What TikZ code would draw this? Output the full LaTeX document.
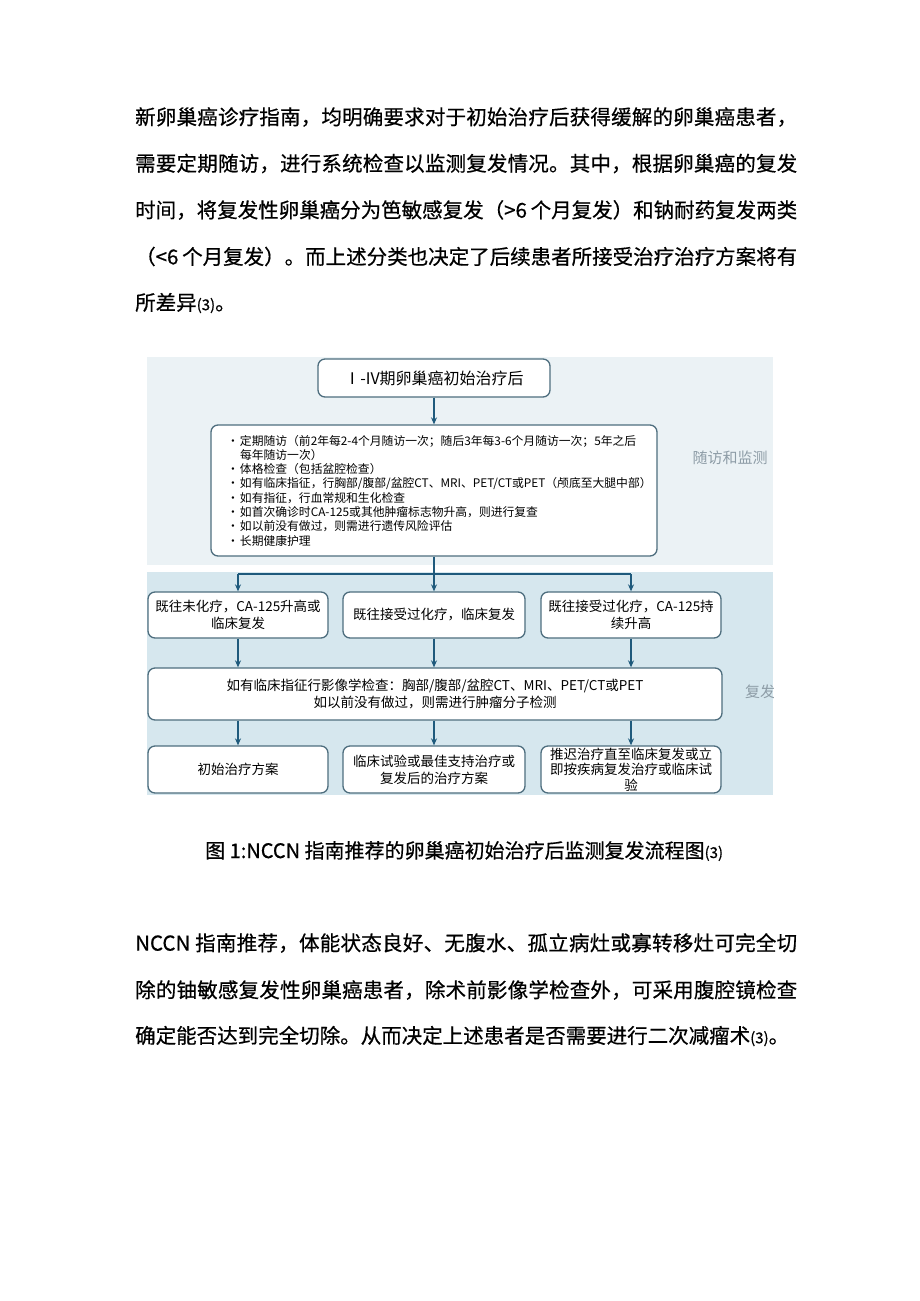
\documentclass[tikz,border=0pt]{standalone}
\usepackage{fontspec}
\setmainfont{Noto Sans CJK SC}
\newfontfamily\bodyfam{Noto Sans CJK SC}[FakeBold=0.6]
\usetikzlibrary{arrows.meta,positioning}
\definecolor{bgup}{HTML}{EBF2F5}
\definecolor{bgdown}{HTML}{D6E7EE}
\definecolor{boxline}{HTML}{4E6E7E}
\definecolor{arrowc}{HTML}{1F5A7C}
\definecolor{sidegray}{HTML}{8D9CA6}
\newcommand\bodyfont{\bodyfam\fontsize{20.5}{24}\selectfont}
\newcommand\topfont{\fontsize{16}{19}\selectfont}
\newcommand\boxfont{\fontsize{13.5}{17}\selectfont}
\newcommand\listfont{\fontsize{11.8}{14.3}\selectfont}
\newcommand\sidefont{\fontsize{15}{18}\selectfont}
\newcommand\refthree{{\fontsize{15}{15}\selectfont(3)}}
\newcommand\itm{\makebox[13pt][l]{•}}
% spread one printed line over the full text width
\def\spreadline#1{\makebox[662pt][s]{\spreadfirst#1\relax}}
\def\spreadfirst#1{#1\spreadrest}
\def\spreadrest#1{\ifx#1\relax\else\hfil#1\expandafter\spreadrest\fi}
\tikzset{
  bodyln/.style={anchor=west, inner sep=0pt, font=\bodyfont},
  stage/.style={rectangle, draw=boxline, line width=1.3pt, rounded corners=7pt,
                fill=white, align=center, font=\boxfont, inner sep=3pt},
  listbox/.style={stage, align=left, font=\listfont, inner xsep=16pt, text width=414pt},
  sidelbl/.style={font=\sidefont, text=sidegray, inner sep=0pt},
  fl/.style={-{Stealth[length=7pt,width=6pt]}, draw=arrowc, line width=1.2pt},
  ln/.style={draw=arrowc, line width=1.2pt},
}

\begin{document}
\begin{tikzpicture}[x=1pt,y=-1pt]
\useasboundingbox (0,0) rectangle (920,1301);
\node[bodyln] (p1a) at (135,117) {\spreadline{新卵巢癌诊疗指南，均明确要求对于初始治疗后获得缓解的卵巢癌患者，}};
\node[bodyln] (p1b) at (135,163.5) {\spreadline{需要定期随访，进行系统检查以监测复发情况。其中，根据卵巢癌的复发}};
\node[bodyln] (p1c) at (135,210) {\spreadline{时间，将复发性卵巢癌分为笆敏感复发（{>6 }个月复发）和钠耐药复发两类}};
\node[bodyln] (p1d) at (135,256.5) {\spreadline{（{<6 }个月复发）。而上述分类也决定了后续患者所接受治疗治疗方案将有}};
\node[bodyln] (p1e) at (135,303) {所差异\refthree。};

\fill[bgup] (147,357) rectangle (773,565);
\fill[bgdown] (147,572) rectangle (773,795);

\node[stage, font=\topfont, minimum width=232pt, minimum height=38pt] (start) at (434,378) {Ⅰ-IV期卵巢癌初始治疗后};
\node[listbox, minimum width=446pt, minimum height=131pt] (follow) at (434,490.5)
  {\itm 定期随访（前2年每2-4个月随访一次；随后3年每3-6个月随访一次；5年之后\\
   \hspace*{13pt}每年随访一次）\\
   \itm 体格检查（包括盆腔检查）\\
   \itm 如有临床指征，行胸部/腹部/盆腔CT、MRI、PET/CT或PET（颅底至大腿中部）\\
   \itm 如有指征，行血常规和生化检查\\
   \itm 如首次确诊时CA-125或其他肿瘤标志物升高，则进行复查\\
   \itm 如以前没有做过，则需进行遗传风险评估\\
   \itm 长期健康护理};

\node[stage, minimum width=180pt, minimum height=46pt] (prior1) at (238,615) {既往未化疗，CA-125升高或\\临床复发};
\node[stage, minimum width=182pt, minimum height=46pt] (prior2) at (434,615) {既往接受过化疗，临床复发};
\node[stage, minimum width=180pt, minimum height=46pt] (prior3) at (631,615) {既往接受过化疗，CA-125持\\续升高};
\node[stage, minimum width=574pt, minimum height=52pt] (imaging) at (435,694)
  {如有临床指征行影像学检查：胸部/腹部/盆腔CT、MRI、PET/CT或PET\\如以前没有做过，则需进行肿瘤分子检测};
\node[stage, minimum width=180pt, minimum height=47pt] (plan1) at (238,769.5) {初始治疗方案};
\node[stage, minimum width=182pt, minimum height=47pt] (plan2) at (434,769.5) {临床试验或最佳支持治疗或\\复发后的治疗方案};
\node[stage, minimum width=180pt, minimum height=47pt, inner ysep=0pt,
      font=\fontsize{13.5}{15.5}\selectfont] (plan3) at (631,769.5) {推迟治疗直至临床复发或立\\即按疾病复发治疗或临床试\\验};

\begin{scope}
\clip (147,357) rectangle (773,795);
\node[sidelbl] (lblfollow) at (730,458) {随访和监测};
\node[sidelbl, anchor=west] (lblrec) at (745,692) {复发};
\end{scope}

\coordinate (split) at (434,574);
\draw[fl] (start) -- (follow);
\draw[ln] (follow) -- (split);
\draw[ln] (prior1.north |- split) -- (prior3.north |- split);
\foreach \n in {prior1,prior2,prior3} \draw[fl] (\n.north |- split) -- (\n.north);
\foreach \n in {prior1,prior2,prior3} \draw[fl] (\n) -- (\n.south |- imaging.north);
\foreach \n in {plan1,plan2,plan3} \draw[fl] (\n.north |- imaging.south) -- (\n);

\node[bodyln, font=\bodyfam\fontsize{20}{24}\selectfont] (caption) at (205,851) {图 1:NCCN 指南推荐的卵巢癌初始治疗后监测复发流程图\refthree};

\node[bodyln] (p2a) at (135,943) {\spreadline{{NCCN }指南推荐，体能状态良好、无腹水、孤立病灶或寡转移灶可完全切}};
\node[bodyln] (p2b) at (135,990) {\spreadline{除的铀敏感复发性卵巢癌患者，除术前影像学检查外，可采用腹腔镜检查}};
\node[bodyln] (p2c) at (135,1036) {确定能否达到完全切除。从而决定上述患者是否需要进行二次减瘤术\refthree。};
\end{tikzpicture}
\end{document}
